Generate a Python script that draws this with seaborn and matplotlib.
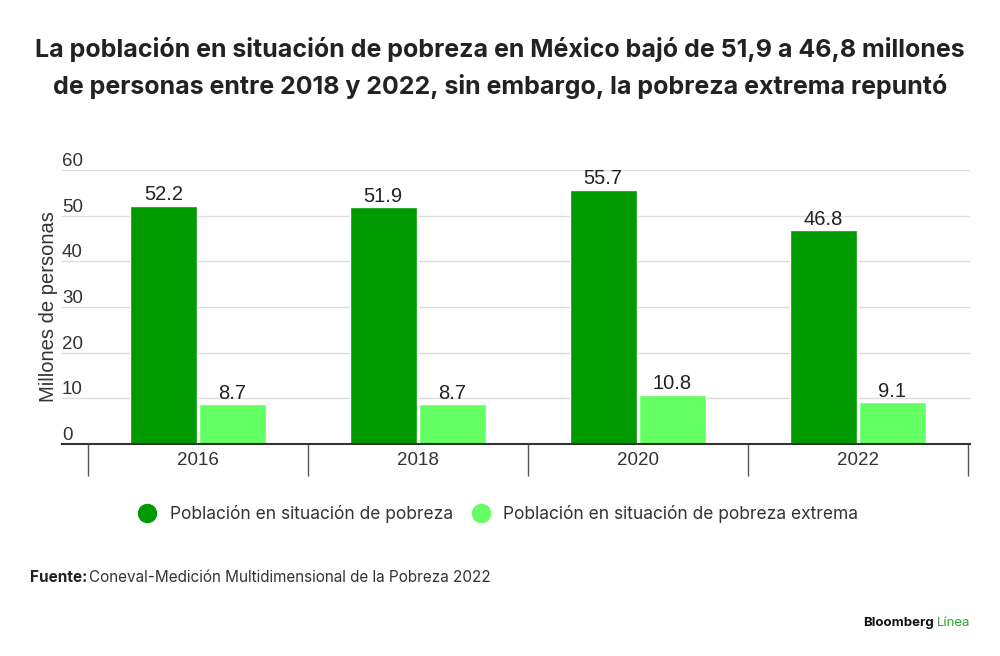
import pandas as pd
import matplotlib.pyplot as plt
from matplotlib.lines import Line2D
import seaborn as sns

years = ["2016", "2018", "2020", "2022"]
pobreza = [52.2, 51.9, 55.7, 46.8]
pobreza_extrema = [8.7, 8.7, 10.8, 9.1]
series_names = ["Población en situación de pobreza",
                "Población en situación de pobreza extrema"]
y_ticks = [0, 10, 20, 30, 40, 50, 60]

DARK = "#009A00"
LIGHT = "#63FF63"
TEXT = "#222222"

df = pd.DataFrame({
    "year": years * 2,
    "value": pobreza + pobreza_extrema,
    "serie": [series_names[0]] * len(years) + [series_names[1]] * len(years),
})

sns.set_theme(style="white")
plt.rcParams["font.family"] = ["Inter", "DejaVu Sans"]

fig = plt.figure(figsize=(10, 6.56), dpi=100)
ax = fig.add_axes([0.062, 0.3232, 0.908, 0.4177])

sns.barplot(data=df, x="year", y="value", hue="serie", order=years,
            hue_order=series_names, palette=[DARK, LIGHT],
            width=0.63, gap=0.03, saturation=1, ax=ax, legend=False)

for cont in ax.containers:
    ax.bar_label(cont, fmt="%.1f", padding=1, fontsize=14.5, color=TEXT,
                 family=["Liberation Sans", "DejaVu Sans"])

ax.set_xlim(-0.618, 3.51)
ax.set_ylim(0, 60)
ax.set_yticks(y_ticks)
ax.set_yticklabels([str(t) for t in y_ticks], ha="left", va="bottom",
                   fontsize=13.5, color="#333333",
                   family=["Liberation Sans", "DejaVu Sans"])
ax.tick_params(axis="y", length=0, pad=0)
ax.yaxis.grid(True, color="#dddddd", linewidth=1)
ax.set_axisbelow(True)

ax.set_xticks(range(len(years)))
ax.set_xticklabels(years, fontsize=13.5, color="#333333",
                   family=["Liberation Sans", "DejaVu Sans"])
ax.set_xticks([i - 0.5 for i in range(len(years) + 1)], minor=True)
ax.tick_params(axis="x", which="both", bottom=True)
ax.tick_params(axis="x", which="major", length=0, pad=6)
ax.tick_params(axis="x", which="minor", length=23, width=1, color="#555555",
               direction="out")

for s in ["top", "right", "left"]:
    ax.spines[s].set_visible(False)
ax.spines["bottom"].set_color("#333333")
ax.spines["bottom"].set_linewidth(1.5)

ax.set_xlabel("")
ax.set_ylabel("Millones de personas", fontsize=14.5, color="#333333", labelpad=3,
              family=["Liberation Sans", "DejaVu Sans"])

fig.text(0.5, 0.897, "La población en situación de pobreza en México bajó de 51,9 a 46,8 millones\n"
         "de personas entre 2018 y 2022, sin embargo, la pobreza extrema repuntó",
         ha="center", va="center", fontsize=18, fontweight="bold",
         color=TEXT, linespacing=1.6)

handles = [Line2D([], [], marker="o", linestyle="", markersize=13,
                  markerfacecolor=c, markeredgecolor=c) for c in (DARK, LIGHT)]
fig.legend(handles, series_names, loc="center", bbox_to_anchor=(0.494, 0.216),
           ncol=2, frameon=False, fontsize=12.5, handletextpad=0.3,
           columnspacing=0.6, labelcolor="#333333")

renderer = fig.canvas.get_renderer()
t1 = fig.text(0.030, 0.120, "Fuente:", ha="left", va="center", fontsize=11,
              fontweight="bold", color=TEXT)
bb = t1.get_window_extent(renderer).transformed(fig.transFigure.inverted())
fig.text(bb.x1 + 0.002, 0.120, "Coneval-Medición Multidimensional de la Pobreza 2022",
         ha="left", va="center", fontsize=11, color="#333333")

t2 = fig.text(0.970, 0.050, "Línea", ha="right", va="center", fontsize=9.5,
              color="#2aa52a")
bb2 = t2.get_window_extent(renderer).transformed(fig.transFigure.inverted())
fig.text(bb2.x0 - 0.003, 0.050, "Bloomberg", ha="right", va="center",
         fontsize=9.5, fontweight="bold", color="#111111")

fig.savefig("out.png", dpi=100, facecolor="white")
